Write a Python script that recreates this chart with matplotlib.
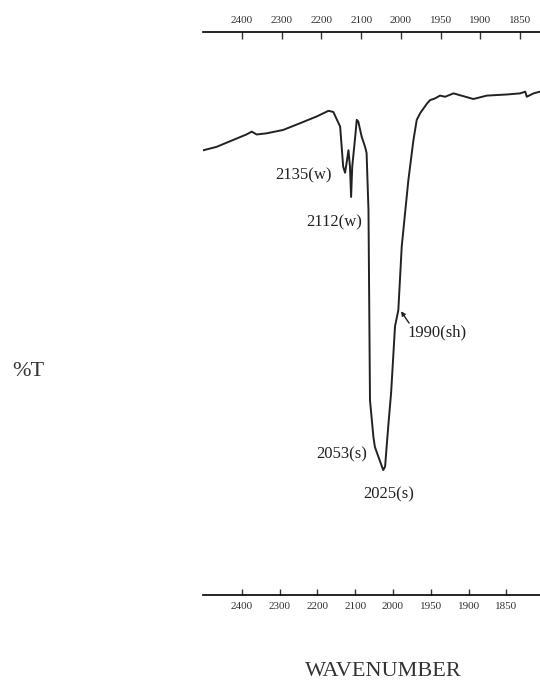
import numpy as np
import matplotlib
matplotlib.use("Agg")
import matplotlib.pyplot as plt

plt.rcParams['font.family'] = ['Liberation Serif', 'DejaVu Serif']

# -----------------------------
# IR trace (wavenumber cm-1, %T)
# -----------------------------
wavenumber = [2502, 2467, 2424, 2388, 2374, 2361, 2335, 2291, 2246, 2202, 2171, 2158,
              2149, 2140, 2132, 2127, 2123, 2118, 2114, 2111, 2108, 2101, 2096, 2092,
              2083, 2074, 2070, 2065, 2061, 2052, 2048, 2039, 2026, 2021, 2017, 2012,
              2005, 1997.4, 1993, 1988.5, 1979.7, 1973, 1968.6, 1964, 1955, 1951,
              1944.5, 1937.8, 1931, 1920, 1893.7, 1876, 1849.6, 1831.8, 1825, 1823,
              1814, 1805.5]
transmittance = [79.0, 79.6, 80.8, 81.8, 82.3, 81.8, 82.0, 82.6, 83.8, 85.0, 86.0, 85.8,
                 84.5, 83.2, 76.1, 75.0, 76.7, 79.0, 76.1, 70.7, 76.1, 80.8, 84.4, 84.1,
                 81.4, 79.6, 78.5, 68.4, 34.6, 28.1, 26.3, 24.6, 22.2, 22.8, 26.3, 30.5,
                 36.0, 47.7, 50.6, 61.9, 73.7, 80.8, 84.4, 85.6, 87.3, 87.9,
                 88.2, 88.7, 88.5, 89.1, 88.1, 88.7, 88.9, 89.1, 89.4, 88.5,
                 89.1, 89.4]

tick_values = [2400, 2300, 2200, 2100, 2000, 1950, 1900, 1850]
tick_labels = ['2400', '2300', '2200', '2100', '2000', '1950', '1900', '1850']

# peak labels: text, label anchor (wn, %T), alignment
peak_labels = ['2135(w)', '2112(w)', '1990(sh)', '2053(s)', '2025(s)']
peak_x = [2161.6, 2082, 1981.5, 2069, 2012]
peak_y = [74.6, 66.1, 46.7, 24.9, 17.8]
peak_ha = ['right', 'right', 'left', 'right', 'center']


# spectrometer chart: scale doubles below 2000 cm-1
def fwd(w):
    w = np.asarray(w, dtype=float)
    return np.where(w >= 2000, w, 2 * w - 2000)


def inv(u):
    u = np.asarray(u, dtype=float)
    return np.where(u >= 2000, u, (u + 2000) / 2)


fig = plt.figure(figsize=(5.4, 6.83), dpi=100)
ax = fig.add_axes([203 / 540, 1 - 595 / 683, 1 - 203 / 540, (595 - 32) / 683])

ax.plot(wavenumber, transmittance, color='#222222', lw=1.4)
ax.set_xscale('function', functions=(fwd, inv))
ax.set_xlim(2503, 1805.5)
ax.set_ylim(0, 100)

for s in ['left', 'right', 'top']:
    ax.spines[s].set_visible(False)
ax.spines['bottom'].set_linewidth(1.2)
ax.set_yticks([])
ax.set_xticks(tick_values)
ax.set_xticklabels(tick_labels)
ax.xaxis.set_minor_locator(matplotlib.ticker.NullLocator())
ax.tick_params(axis='x', direction='in', length=4.5, width=1, pad=5,
               labelsize=8, colors='#333333')

# top axis of the chart paper (printed slightly offset from the bottom one)
ax2 = ax.twiny()
ax2.set_xscale('function', functions=(fwd, inv))
ax2.set_xlim(2498, 1825)
for s in ['left', 'right', 'bottom']:
    ax2.spines[s].set_visible(False)
ax2.spines['top'].set_linewidth(1.2)
ax2.set_xticks(tick_values)
ax2.set_xticklabels(tick_labels)
ax2.xaxis.set_minor_locator(matplotlib.ticker.NullLocator())
ax2.tick_params(axis='x', direction='in', length=5, width=1, pad=5,
                labelsize=8, colors='#333333')

for txt, x, y, ha in zip(peak_labels, peak_x, peak_y, peak_ha):
    ax.text(x, y, txt, ha=ha, va='center', fontsize=12, color='#222222')

ax.annotate('', xy=(1989.4, 50.4), xytext=(1978.8, 48.3),
            arrowprops=dict(arrowstyle='-|>', color='#222222', lw=1,
                            mutation_scale=6, shrinkA=0, shrinkB=0))

fig.text(28.5 / 540, 1 - 372 / 683, '%T', ha='center', va='center',
         fontsize=16, color='#333333')
fig.text(383.5 / 540, 1 - 672 / 683, 'WAVENUMBER', ha='center', va='center',
         fontsize=16, color='#333333')

fig.savefig('out.png', dpi=100)
